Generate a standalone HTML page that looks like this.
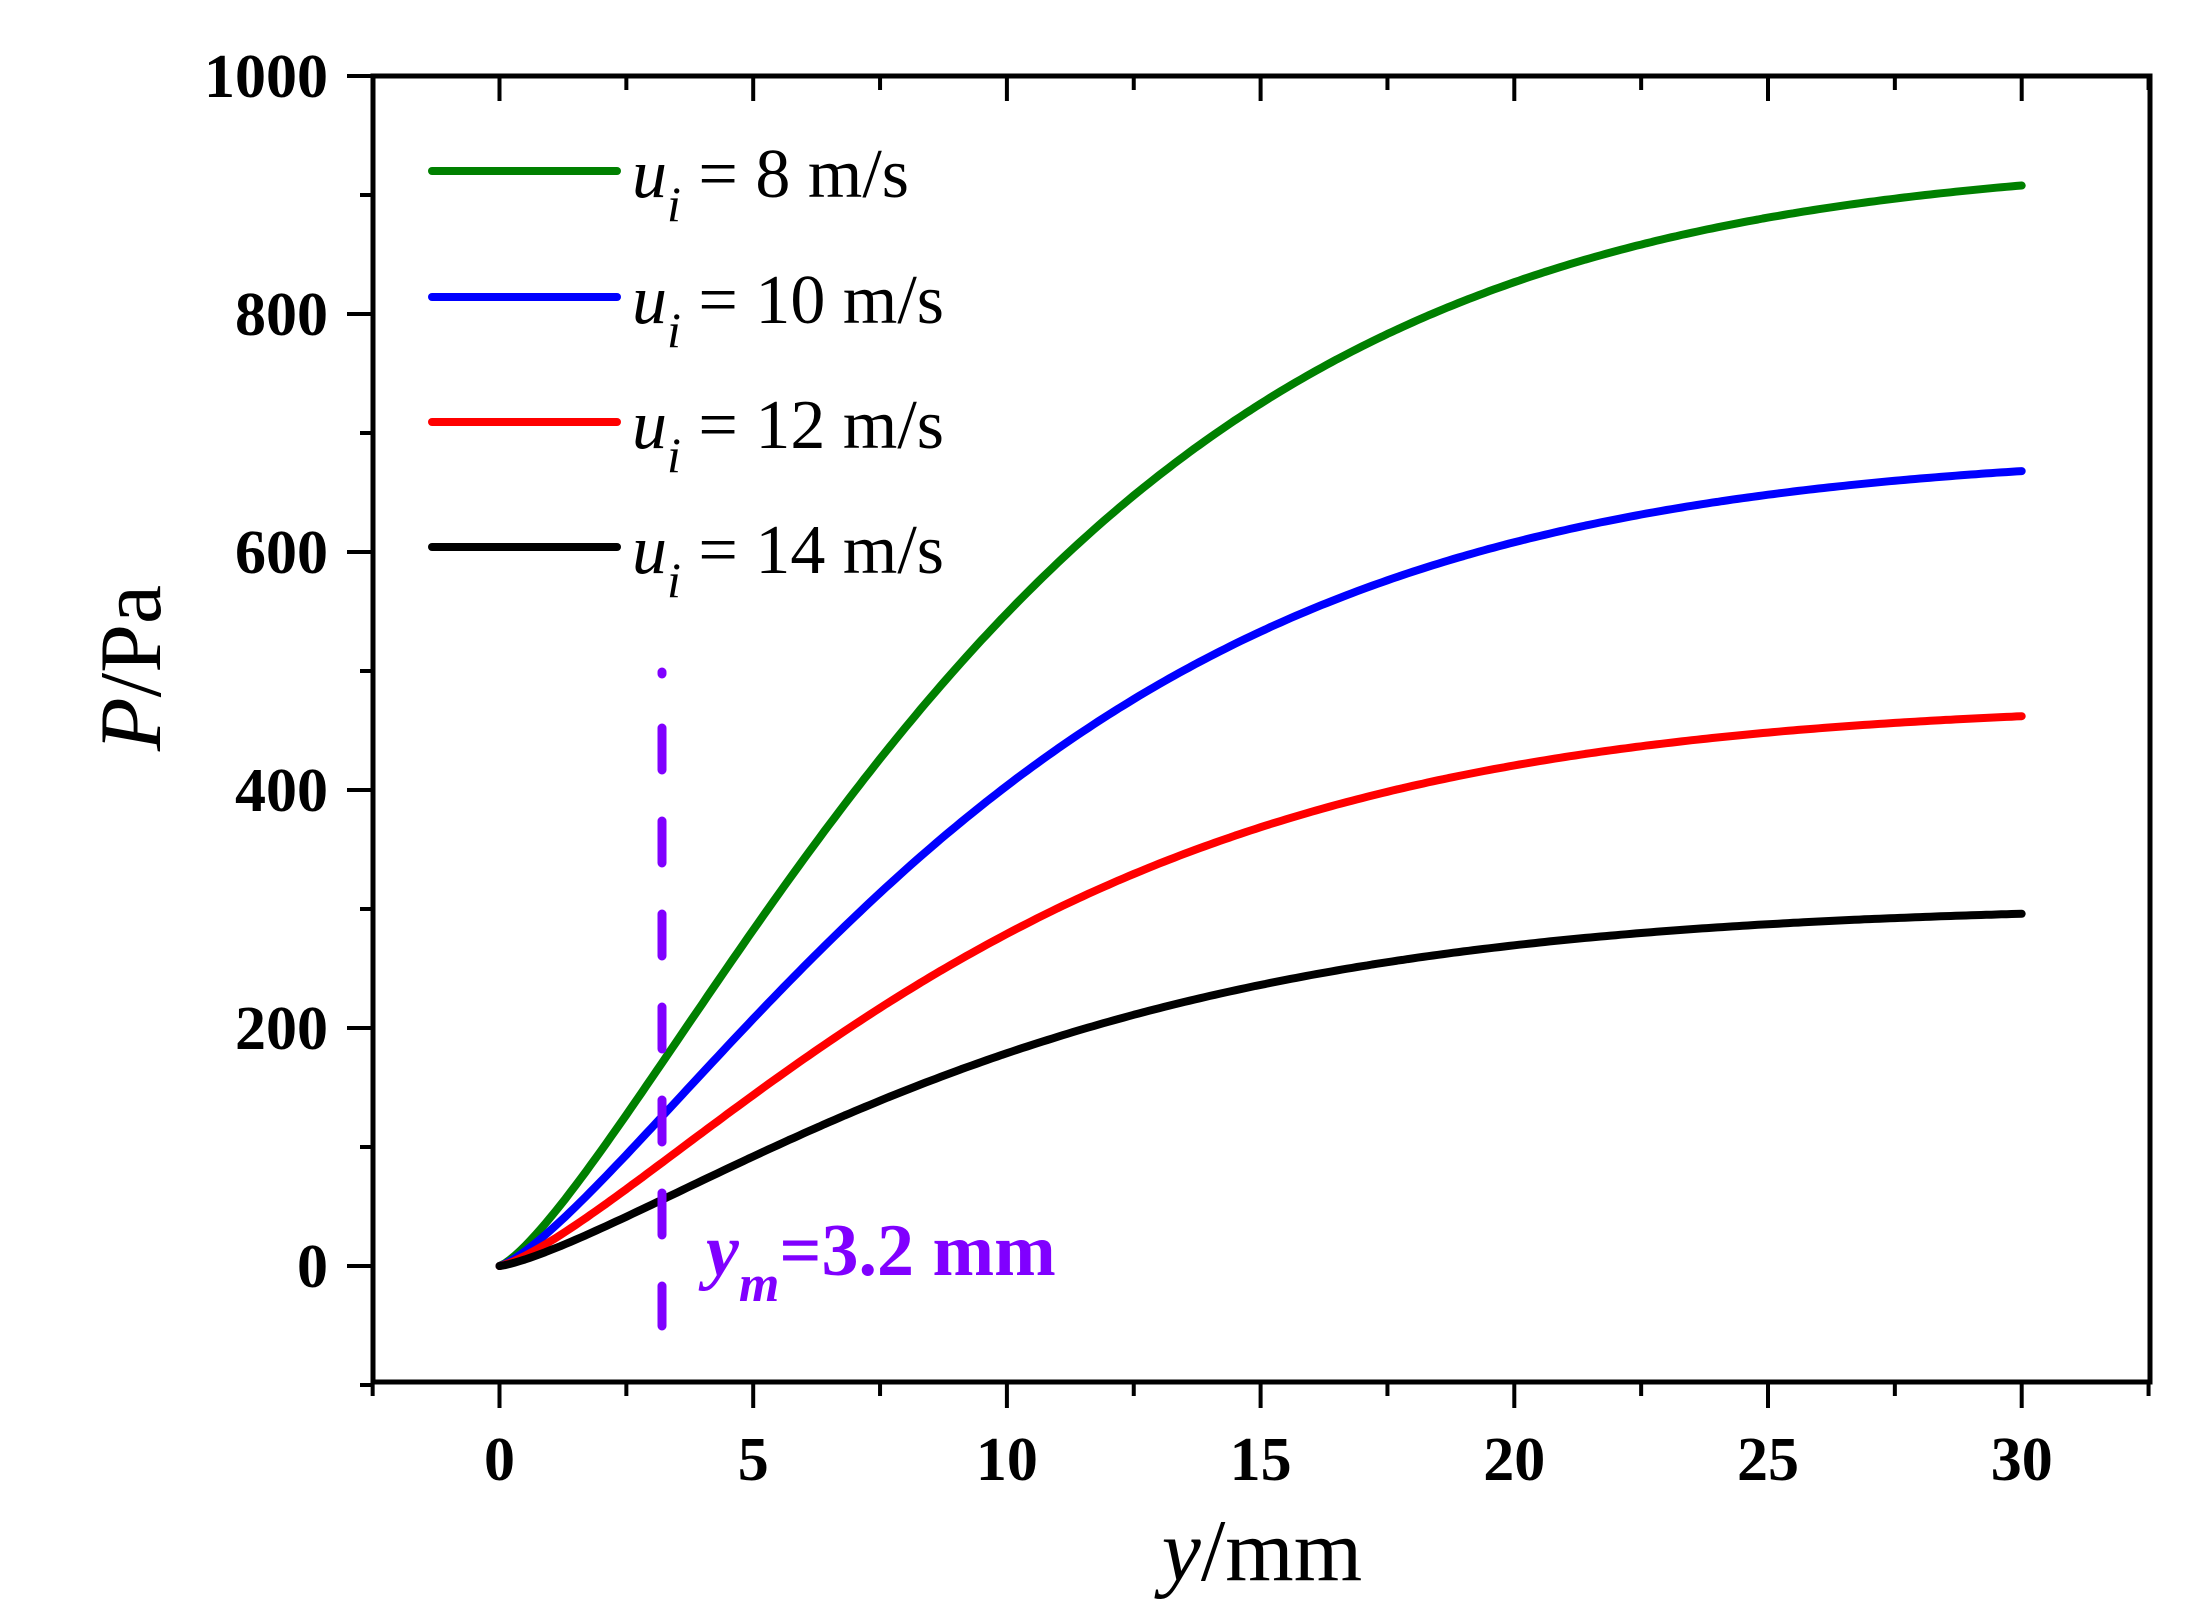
<!DOCTYPE html>
<html><head><meta charset="utf-8"><style>
html,body{margin:0;padding:0;background:#fff;}
svg{display:block;}
text{font-family:"Liberation Serif",serif;}
</style></head><body>
<svg id="s" width="2195" height="1619" viewBox="0 0 2195 1619" xmlns="http://www.w3.org/2000/svg">
<g id="curves" fill="none" stroke-width="8" stroke-linecap="round" stroke-linejoin="round"></g>
<rect x="373" y="76" width="1777" height="1306" fill="none" stroke="#000" stroke-width="5"/>
<g id="ticks" stroke="#000" stroke-width="4"></g>
<g font-weight="bold" font-size="62" text-anchor="end" id="ylab"></g>
<g font-weight="bold" font-size="62" text-anchor="middle" id="xlab"></g>
<text x="1262" y="1580" font-size="88" text-anchor="middle"><tspan font-style="italic">y</tspan>/mm</text>
<text transform="translate(160,668) rotate(-90)" font-size="88" text-anchor="middle"><tspan font-style="italic">P</tspan>/Pa</text>
<g stroke-width="8" stroke-linecap="round">
<line x1="432" y1="171" x2="617" y2="171" stroke="#008000"/>
<line x1="432" y1="297" x2="617" y2="297" stroke="#0000ff"/>
<line x1="432" y1="422" x2="617" y2="422" stroke="#ff0000"/>
<line x1="432" y1="547" x2="617" y2="547" stroke="#000"/>
</g>
<g font-size="70">
<text x="632" y="197"><tspan font-style="italic">u</tspan><tspan font-style="italic" font-size="50" dy="24">i</tspan><tspan dy="-24"> = 8 m/s</tspan></text>
<text x="632" y="323"><tspan font-style="italic">u</tspan><tspan font-style="italic" font-size="50" dy="24">i</tspan><tspan dy="-24"> = 10 m/s</tspan></text>
<text x="632" y="448"><tspan font-style="italic">u</tspan><tspan font-style="italic" font-size="50" dy="24">i</tspan><tspan dy="-24"> = 12 m/s</tspan></text>
<text x="632" y="573"><tspan font-style="italic">u</tspan><tspan font-style="italic" font-size="50" dy="24">i</tspan><tspan dy="-24"> = 14 m/s</tspan></text>
</g>
<line x1="662" y1="672" x2="662" y2="674" stroke="#8000ff" stroke-width="9" stroke-linecap="round"/>
<line x1="662" y1="728" x2="662" y2="1326" stroke="#8000ff" stroke-width="9" stroke-linecap="round" stroke-dasharray="42 51"/>
<text x="706" y="1275" font-size="74" font-weight="bold" fill="#8000ff"><tspan font-style="italic">y</tspan><tspan font-style="italic" font-size="52" dy="26">m</tspan><tspan dy="-26">=3.2 mm</tspan></text>
</svg>
<script>
var NS="http://www.w3.org/2000/svg";
function X(v){return 499.5+v*50.74;}
function Y(p){return 1266-p*1.19;}
function g(x){return 1-Math.exp(-0.89*Math.pow(x/10,1.3));}
function f(x){return g(x)/g(30);}
var ser=[[908,"#008000"],[668,"#0000ff"],[462,"#ff0000"],[296,"#000"]];
var G=document.getElementById("curves");
ser.forEach(function(s){var d="";for(var x=0;x<=30.001;x+=0.1){d+=(x==0?"M":"L")+X(x).toFixed(1)+","+Y(s[0]*f(x)).toFixed(1);}var p=document.createElementNS(NS,"path");p.setAttribute("d",d);p.setAttribute("stroke",s[1]);G.appendChild(p);});
var tk=document.getElementById("ticks");
function ln(a,b,c,d){var l=document.createElementNS(NS,"line");l.setAttribute("x1",a);l.setAttribute("y1",b);l.setAttribute("x2",c);l.setAttribute("y2",d);tk.appendChild(l);}
function tx(id,x,y,s){var t=document.createElementNS(NS,"text");t.setAttribute("x",x);t.setAttribute("y",y);t.textContent=s;document.getElementById(id).appendChild(t);}
for(var p=-100;p<=1000;p+=100){var y=Y(p);var maj=p%200==0;ln(373,y,maj?347:360,y);if(maj)tx("ylab",328,y+21,p);}
for(var v=-2.5;v<=32.6;v+=2.5){var x=X(v);var maj=Math.abs(v%5)<0.01;ln(x,1382,x,maj?1408:1396);ln(x,76,x,maj?101:90);if(maj&&v>=0&&v<=30)tx("xlab",x,1480,v);}
</script>
</body></html>
